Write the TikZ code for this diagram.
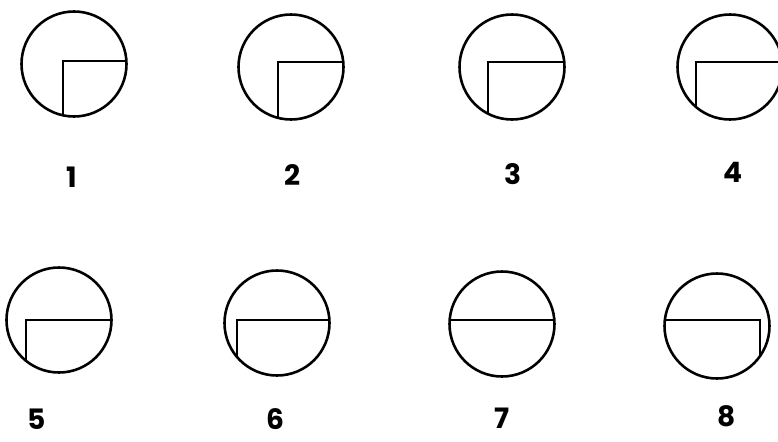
\documentclass[tikz,border=0pt]{standalone}
\usepackage{fontspec}
\setmainfont{Poppins}
\begin{document}
\begin{tikzpicture}[x=0.03cm,y=-0.03cm,
    dial/.style={line width=2.2pt},
    hand/.style={line width=1.6pt},
    numlabel/.style={font=\fontsize{24}{26}\selectfont\bfseries}]
  \useasboundingbox (0,0) rectangle (778,441);
  % dials: centre, corner of the hands, side of the long hand
  \foreach \cx/\cy/\kx/\ky/\dir in {74/64/63/61/1,291/67/278/62/1,512/67/488/62/1,730/67/696/62/1,
      59/320/26/320/1,277/323/237/320/1,502/324/440/320/1,717/326/760/320/-1}{
    \begin{scope}
      \clip (\cx,\cy) circle (52.5);
      \draw[hand] (\kx+\dir*200,\ky) -- (\kx,\ky) -- (\kx,\ky+200);
    \end{scope}
    \draw[dial] (\cx,\cy) circle (52.5);}
  \foreach \x/\y/\n in {72/177/1,293/175/2,513/174/3,733/172/4,37/419/5,275/419/6,502/418/7,727/416/8}{
    \node[numlabel] (lab\n) at (\x,\y) {\n};}
\end{tikzpicture}
\end{document}
